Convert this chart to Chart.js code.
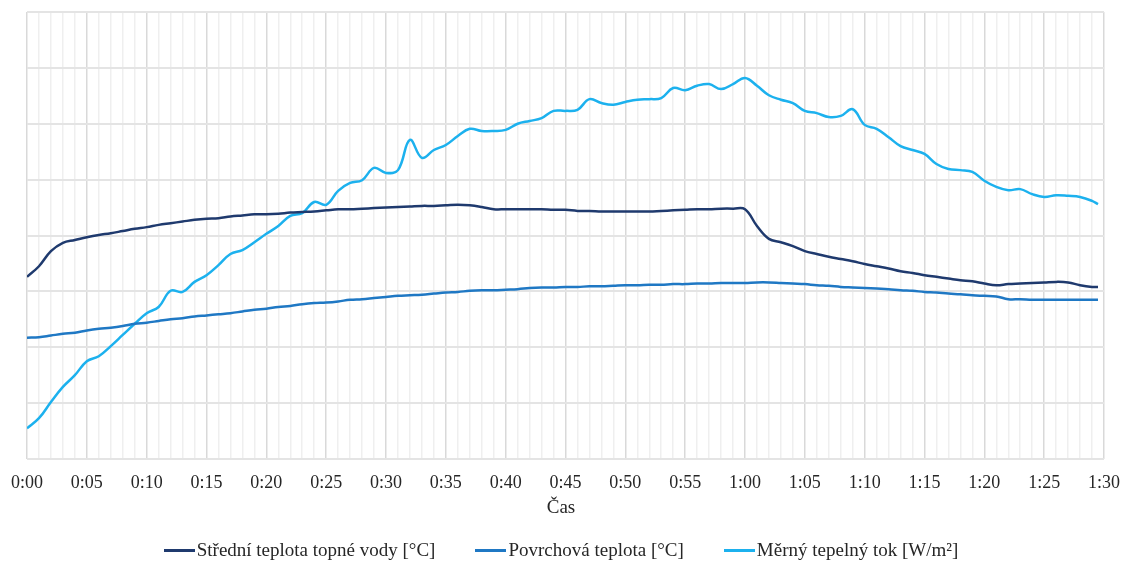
<!DOCTYPE html>
<html lang="cs">

<head>
    <meta charset="UTF-8">
    <title>Teploty a tepelný tok</title>
    <script src="https://cdn.jsdelivr.net/npm/chart.js@4.4.0/dist/chart.umd.min.js"></script>
    <style>
        body { margin: 0; background: #fff; }
        #wrap { position: relative; width: 1122px; height: 562px; overflow: hidden; }
        #graf { display: block; }
        #osa {
            position: absolute; left: 0; top: 496px; width: 1122px; text-align: center;
            font-family: 'Liberation Serif', serif; font-size: 19px; line-height: 22px; color: #262626;
        }
        #legenda {
            position: absolute; left: 0; top: 539px; width: 1122px;
            display: flex; justify-content: center; line-height: 22px;
            font-family: 'Liberation Serif', serif; font-size: 19px; color: #262626;
        }
        .polozka { display: flex; align-items: center; margin: 0 20px; white-space: nowrap; }
        .znacka { width: 31px; height: 3px; margin-right: 2px; }
    </style>
</head>

<body>
    <div id="wrap">
        <canvas id="graf" width="1122" height="562"></canvas>
        <div id="osa">Čas</div>
        <div id="legenda"></div>
    </div>

<script>
    // cas v minutach (posledni bod je 1:29:30)
    const minutes = [0, 1, 2, 3, 4, 5, 6, 7, 8, 9, 10, 11, 12, 13, 14, 15, 16, 17, 18, 19,
        20, 21, 22, 23, 24, 25, 26, 27, 28, 29, 30, 31, 32, 33, 34, 35, 36, 37, 38, 39,
        40, 41, 42, 43, 44, 45, 46, 47, 48, 49, 50, 51, 52, 53, 54, 55, 56, 57, 58, 59,
        60, 61, 62, 63, 64, 65, 66, 67, 68, 69, 70, 71, 72, 73, 74, 75, 76, 77, 78, 79,
        80, 81, 82, 83, 84, 85, 86, 87, 88, 89, 89.5];

    const tVoda = [32.6, 34.5, 37.2, 38.7, 39.2, 39.7, 40.1, 40.4, 40.8, 41.2, 41.5, 41.9, 42.2, 42.5, 42.8, 43.0, 43.1, 43.4, 43.6, 43.8,
        43.8, 43.9, 44.1, 44.2, 44.3, 44.5, 44.7, 44.7, 44.8, 44.9, 45.0, 45.1, 45.2, 45.3, 45.3, 45.4, 45.5, 45.4, 45.1, 44.7,
        44.7, 44.7, 44.7, 44.7, 44.6, 44.6, 44.4, 44.4, 44.3, 44.3, 44.3, 44.3, 44.3, 44.4, 44.5, 44.6, 44.7, 44.7, 44.8, 44.8,
        44.7, 41.7, 39.4, 38.8, 38.1, 37.2, 36.7, 36.2, 35.8, 35.4, 34.9, 34.5, 34.1, 33.6, 33.3, 32.9, 32.6, 32.3, 32.0, 31.8,
        31.4, 31.1, 31.3, 31.4, 31.5, 31.6, 31.7, 31.6, 31.1, 30.8, 30.8];

    const tPovrch = [21.7, 21.8, 22.1, 22.4, 22.6, 23.0, 23.3, 23.5, 23.8, 24.2, 24.4, 24.7, 25.0, 25.2, 25.5, 25.7, 25.9, 26.1, 26.4, 26.7,
        26.9, 27.2, 27.4, 27.7, 27.9, 28.0, 28.2, 28.5, 28.6, 28.8, 29.0, 29.2, 29.3, 29.4, 29.6, 29.8, 29.9, 30.1, 30.2, 30.2,
        30.3, 30.4, 30.6, 30.7, 30.7, 30.8, 30.8, 30.9, 30.9, 31.0, 31.1, 31.1, 31.2, 31.2, 31.3, 31.3, 31.4, 31.4, 31.5, 31.5,
        31.5, 31.6, 31.6, 31.5, 31.4, 31.3, 31.1, 31.0, 30.8, 30.7, 30.6, 30.5, 30.4, 30.2, 30.1, 29.9, 29.8, 29.6, 29.5, 29.3,
        29.2, 29.1, 28.6, 28.6, 28.5, 28.5, 28.5, 28.5, 28.5, 28.5, 28.5];

    const tok = [5.5, 7.3, 10.2, 12.9, 15.0, 17.5, 18.4, 20.2, 22.2, 24.2, 26.1, 27.2, 30.1, 29.9, 31.7, 32.9, 34.7, 36.7, 37.4, 38.8,
        40.3, 41.7, 43.5, 44.0, 46.0, 45.5, 48.0, 49.4, 49.9, 52.1, 51.2, 51.7, 57.1, 53.9, 55.3, 56.2, 57.8, 59.1, 58.7, 58.7,
        58.9, 60.0, 60.5, 61.0, 62.3, 62.3, 62.5, 64.4, 63.7, 63.4, 63.9, 64.3, 64.4, 64.6, 66.4, 66.0, 66.8, 67.1, 66.2, 67.1,
        68.2, 66.8, 65.1, 64.3, 63.7, 62.3, 61.9, 61.2, 61.4, 62.6, 59.8, 59.1, 57.6, 56.0, 55.3, 54.6, 52.8, 51.9, 51.7, 51.4,
        49.8, 48.7, 48.1, 48.3, 47.4, 46.9, 47.2, 47.1, 46.9, 46.2, 45.6];

    const seriesNames = ['Střední teplota topné vody [°C]', 'Povrchová teplota [°C]', 'Měrný tepelný tok [W/m²]'];
    const seriesColors = ['#1f3a6e', '#1f78c4', '#1cb1ee'];

    function pairs(vals) {
        return vals.map((v, i) => ({ x: minutes[i], y: v }));
    }

    function casLabel(m) {
        const h = Math.floor(m / 60);
        const mm = m % 60;
        return h + ':' + (mm < 10 ? '0' : '') + mm;
    }

    const allSeries = [tVoda, tPovrch, tok];
    const datasets = allSeries.map((vals, i) => ({
        label: seriesNames[i],
        data: pairs(vals),
        borderColor: seriesColors[i],
        backgroundColor: seriesColors[i],
        borderWidth: 2.5,
        pointRadius: 0,
        tension: 0.4,
    }));

    // legenda pod grafem (HTML)
    const legenda = document.getElementById('legenda');
    for (let i = 0; i < seriesNames.length; i++) {
        const p = document.createElement('div');
        p.className = 'polozka';
        const z = document.createElement('span');
        z.className = 'znacka';
        z.style.background = seriesColors[i];
        const t = document.createElement('span');
        t.textContent = seriesNames[i];
        p.appendChild(z);
        p.appendChild(t);
        legenda.appendChild(p);
    }

    const ctx = document.getElementById('graf').getContext('2d');
    const myChart = new Chart(ctx, {
        type: 'line',
        data: { datasets: datasets },
        options: {
            responsive: false,
            animation: false,
            layout: {
                padding: { left: 27, right: 18, top: 12, bottom: 63 }
            },
            plugins: {
                legend: { display: false },
                tooltip: { enabled: false }
            },
            scales: {
                x: {
                    type: 'linear',
                    min: 0,
                    max: 90,
                    afterFit: s => {
                        s.height = 40;
                        s.paddingLeft = 0;
                        s.paddingRight = 0;
                    },
                    grid: {
                        drawTicks: false,
                        lineWidth: 1.5,
                        color: c => (c.tick && c.tick.value % 5 === 0) ? '#d9d9d9' : '#efefef'
                    },
                    border: { display: false },
                    ticks: {
                        stepSize: 1,
                        autoSkip: false,
                        maxRotation: 0,
                        padding: 13,
                        color: '#262626',
                        font: { family: 'Liberation Serif', size: 18 },
                        callback: v => (v % 5 === 0) ? casLabel(v) : ''
                    }
                },
                y: {
                    min: 0,
                    max: 80,
                    grid: {
                        drawTicks: false,
                        lineWidth: 2,
                        color: '#e4e4e4'
                    },
                    border: { display: false },
                    ticks: { display: false, stepSize: 10 }
                }
            }
        }
    });
</script>
</body>

</html>
